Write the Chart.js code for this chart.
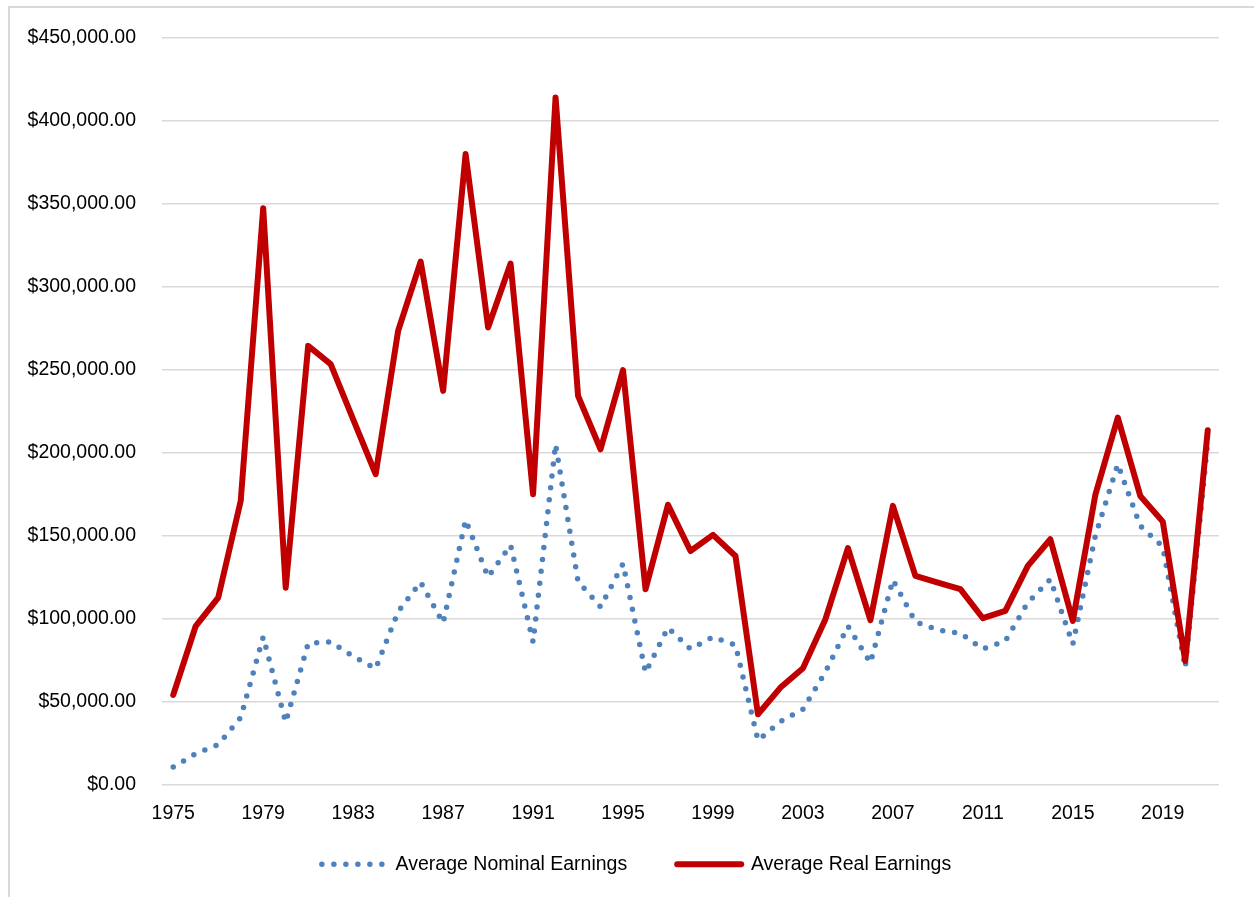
<!DOCTYPE html>
<html>
<head>
<meta charset="utf-8">
<script src="https://cdn.jsdelivr.net/npm/chart.js@4.4.0/dist/chart.umd.min.js"></script>
<style>
  body { margin: 0; background: #fff; }
  #wrap { position: relative; width: 1254px; height: 897px; }
  #frame { position: absolute; left: 8px; top: 6px; right: 0; bottom: 0;
           border-top: 2px solid #d9d9d9; border-left: 2px solid #d9d9d9; pointer-events: none; }
</style>
</head>
<body>
<div id="wrap">
  <canvas id="myChart" width="1254" height="897"></canvas>
  <div id="frame"></div>
</div>
<script>
const years = [];
for (let y = 1975; y <= 2021; y++) years.push(String(y));

const nominalEarnings = [10500, 18600, 24000, 40300, 88900, 37500, 85000, 86000, 77300, 69800,
  104200, 122000, 97300, 159400, 125000, 144200, 85900, 205000, 122300, 107000,
  133000, 67400, 94500, 81700, 88900, 84000, 26600, 37900, 45300, 67800,
  95400, 73300, 123300, 98100, 93100, 91100, 81700, 86500, 109600, 123700,
  84500, 149800, 193000, 155800, 143300, 70400, 207000];

const realEarnings = [54000, 95500, 112600, 170900, 347300, 118600, 264300, 253300, 220000, 187000,
  273400, 315100, 237200, 379900, 275400, 313900, 174900, 414000, 234200, 202000,
  249700, 117700, 168500, 140700, 150400, 137700, 42300, 58400, 70000, 99600,
  142400, 99000, 167900, 125700, 121700, 117700, 100200, 104600, 131700, 147800,
  98600, 174500, 221100, 173900, 158400, 74400, 213500];

const fontFamily = "'Liberation Sans', Arial, sans-serif";
const fontSize = 19.5;

// nudge the legend row to where it sits in the original
const legendShift = {
  id: 'legendShift',
  afterLayout(chart) {
    const lg = chart.legend;
    if (!lg) return;
    lg.left += 22; lg.right += 22;
    lg.top -= 21; lg.bottom -= 21;
  }
};

const ctx = document.getElementById('myChart').getContext('2d');
new Chart(ctx, {
  type: 'line',
  data: {
    labels: years,
    datasets: [{
      label: 'Average Nominal Earnings',
      data: nominalEarnings,
      borderColor: '#4F81BD',
      backgroundColor: '#4F81BD',
      borderWidth: 5.5,
      borderDash: [0, 12],
      borderCapStyle: 'round',
      borderJoinStyle: 'round',
      pointRadius: 0,
      tension: 0,
      order: 1
    }, {
      label: 'Average Real Earnings',
      data: realEarnings,
      borderColor: '#C00000',
      backgroundColor: '#C00000',
      borderWidth: 6,
      borderCapStyle: 'round',
      borderJoinStyle: 'round',
      pointRadius: 0,
      tension: 0,
      order: 0
    }]
  },
  plugins: [legendShift],
  options: {
    responsive: false,
    animation: false,
    layout: { padding: { left: 10, right: 35, top: 23, bottom: -8 } },
    plugins: {
      tooltip: { enabled: false },
      legend: {
        position: 'bottom',
        labels: {
          usePointStyle: true,
          pointStyle: 'line',
          pointStyleWidth: 64,
          padding: 50,
          color: '#000',
          font: { family: fontFamily, size: fontSize },
          // build the legend samples from the dataset line styles
          generateLabels: (chart) => chart.data.datasets.map((ds, i) => ({
            text: ds.label,
            fillStyle: ds.borderColor,
            strokeStyle: ds.borderColor,
            lineWidth: ds.borderWidth,
            lineDash: ds.borderDash || [],
            lineCap: 'round',
            pointStyle: 'line',
            fontColor: '#000',
            hidden: false,
            datasetIndex: i
          }))
        }
      }
    },
    scales: {
      x: {
        offset: true,
        afterFit: (scale) => { scale.height = 41; },
        grid: { display: false, drawTicks: false },
        border: { display: false },
        ticks: {
          autoSkip: false,
          maxRotation: 0,
          padding: 17,
          color: '#000',
          font: { family: fontFamily, size: fontSize },
          callback: function(value, index) {
            return index % 4 === 0 ? this.getLabelForValue(value) : '';
          }
        }
      },
      y: {
        min: 0,
        max: 450000,
        afterFit: (scale) => { scale.width = 152; },
        grid: { color: '#d9d9d9', lineWidth: 1.5, drawTicks: false },
        border: { display: false },
        ticks: {
          stepSize: 50000,
          padding: 26,
          color: '#000',
          font: { family: fontFamily, size: fontSize },
          callback: (v) => '$' + v.toLocaleString('en-US', { minimumFractionDigits: 2, maximumFractionDigits: 2 })
        }
      }
    }
  }
});
</script>
</body>
</html>
